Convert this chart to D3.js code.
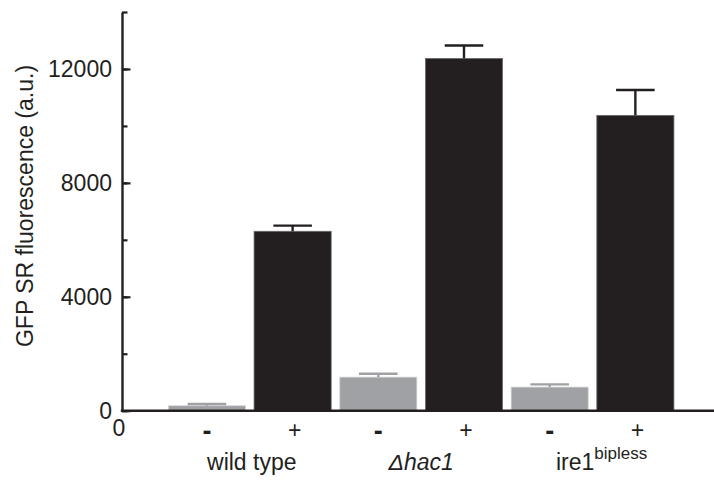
<!DOCTYPE html>
<html>
<head>
<meta charset="utf-8">
<script src="https://cdn.jsdelivr.net/npm/d3@7.9.0/dist/d3.min.js"></script>
<style>
  body { margin: 0; background: #fff; }
  svg { display: block; font-family: "Liberation Sans", Arial, Helvetica, sans-serif; }
</style>
</head>
<body>
<div id="chart"></div>
<script>
// ── Data ────────────────────────────────────────────────────────────────────
const groups = ['wild type', 'Δhac1', 'ire1'];
const treatments = ['-', '+', '-', '+', '-', '+'];
const barKeys = ['wt-', 'wt+', 'hac-', 'hac+', 'ire-', 'ire+'];
const means = [175, 6300, 1180, 12370, 830, 10370];
const errors = [60, 200, 115, 455, 95, 890];
const majorTicks = [0, 4000, 8000, 12000];
const minorTicks = [0, 2000, 4000, 6000, 8000, 10000, 12000, 14000];

const width = 714, height = 485;
const black = '#231f20', gray = '#a0a1a4';

const svg = d3.select('#chart').append('svg')
  .attr('width', width).attr('height', height);

// ── Scales ──────────────────────────────────────────────────────────────────
const x = d3.scaleBand()
  .domain(barKeys)
  .range([164.1, 678.2])
  .paddingInner(0.1)
  .paddingOuter(0.05);

const y = d3.scaleLinear().domain([0, 14000]).range([410.7, 12]);

const isPlus = (i) => treatments[i] === '+';

// ── Bars ────────────────────────────────────────────────────────────────────
const bars = barKeys.map((k, i) => ({ key: k, value: means[i], err: errors[i], i }));

svg.append('g').selectAll('rect')
  .data(bars)
  .join('rect')
  .attr('x', (d) => x(d.key))
  .attr('y', (d) => y(d.value))
  .attr('width', x.bandwidth())
  .attr('height', (d) => y(0) - y(d.value))
  .attr('fill', (d) => (isPlus(d.i) ? black : gray))
  .attr('stroke', (d) => (isPlus(d.i) ? '#6d6b6c' : '#d8d8da'))
  .attr('stroke-width', 0.8);

// Error bars (upper only)
const eb = svg.append('g').selectAll('g')
  .data(bars)
  .join('g')
  .attr('stroke', (d) => (isPlus(d.i) ? black : gray))
  .attr('stroke-width', 2.4);

eb.append('line')
  .attr('x1', (d) => x(d.key) + x.bandwidth() / 2)
  .attr('x2', (d) => x(d.key) + x.bandwidth() / 2)
  .attr('y1', (d) => y(d.value))
  .attr('y2', (d) => y(d.value + d.err));

eb.append('line')
  .attr('x1', (d) => x(d.key) + x.bandwidth() / 4)
  .attr('x2', (d) => x(d.key) + x.bandwidth() * 3 / 4)
  .attr('y1', (d) => y(d.value + d.err))
  .attr('y2', (d) => y(d.value + d.err));

// ── Axes ────────────────────────────────────────────────────────────────────
const axisX = 122;

// minor ticks (inward, short), also draws the axis line
svg.append('g')
  .attr('transform', `translate(${axisX},0)`)
  .call(d3.axisLeft(y).tickValues(minorTicks).tickSizeInner(-5.5).tickSizeOuter(0).tickFormat(''))
  .call((g) => g.select('.domain').attr('stroke', black).attr('stroke-width', 2.4))
  .call((g) => g.selectAll('.tick line').attr('stroke', black).attr('stroke-width', 2.2));

// major ticks with labels
svg.append('g')
  .attr('transform', `translate(${axisX},0)`)
  .call(d3.axisLeft(y).tickValues(majorTicks).tickSizeInner(-8.5).tickSizeOuter(0).tickPadding(10).tickFormat(d3.format('d')))
  .call((g) => g.select('.domain').remove())
  .call((g) => g.selectAll('.tick line').attr('stroke', black).attr('stroke-width', 2.2))
  .call((g) => g.selectAll('.tick text')
    .attr('fill', black)
    .style('font-size', '23px')
    .style('font-family', '"Liberation Sans", Arial, sans-serif'));

// x axis baseline
svg.append('line')
  .attr('x1', axisX - 1.2).attr('x2', width)
  .attr('y1', y(0)).attr('y2', y(0))
  .attr('stroke', black).attr('stroke-width', 2.6);

// origin "0" under the axis
svg.append('text')
  .attr('x', 119).attr('y', 436)
  .attr('text-anchor', 'middle')
  .attr('fill', black)
  .style('font-size', '23px')
  .text('0');

// treatment signs
svg.append('g').selectAll('text')
  .data(bars)
  .join('text')
  .attr('x', (d) => x(d.key) + x.bandwidth() / 2 + (isPlus(d.i) ? 2 : 0))
  .attr('y', (d) => (isPlus(d.i) ? 438 : 440))
  .attr('text-anchor', 'middle')
  .attr('fill', black)
  .style('font-size', (d) => (isPlus(d.i) ? '23px' : '27px'))
  .style('font-weight', (d) => (isPlus(d.i) ? 'normal' : 'bold'))
  .text((d) => treatments[d.i]);

// group labels
const groupCenter = (gi) => (x(barKeys[gi * 2]) + x(barKeys[gi * 2 + 1]) + x.bandwidth()) / 2;

svg.append('text')
  .attr('x', groupCenter(0) + 2).attr('y', 470)
  .attr('text-anchor', 'middle').attr('fill', black)
  .style('font-size', '23px')
  .text(groups[0]);

svg.append('text')
  .attr('x', groupCenter(1)).attr('y', 470)
  .attr('text-anchor', 'middle').attr('fill', black)
  .style('font-size', '23px').style('font-style', 'italic')
  .text(groups[1]);

const ire = svg.append('text')
  .attr('x', groupCenter(2) + 9).attr('y', 470)
  .attr('text-anchor', 'middle').attr('fill', black)
  .style('font-size', '23px');
ire.append('tspan').text(groups[2]);
ire.append('tspan').attr('dy', -11).style('font-size', '17px').text('bipless');

// y axis title
svg.append('text')
  .attr('transform', `translate(33,206) rotate(-90)`)
  .attr('text-anchor', 'middle').attr('fill', black)
  .style('font-size', '23px')
  .text('GFP SR fluorescence (a.u.)');
</script>
</body>
</html>
